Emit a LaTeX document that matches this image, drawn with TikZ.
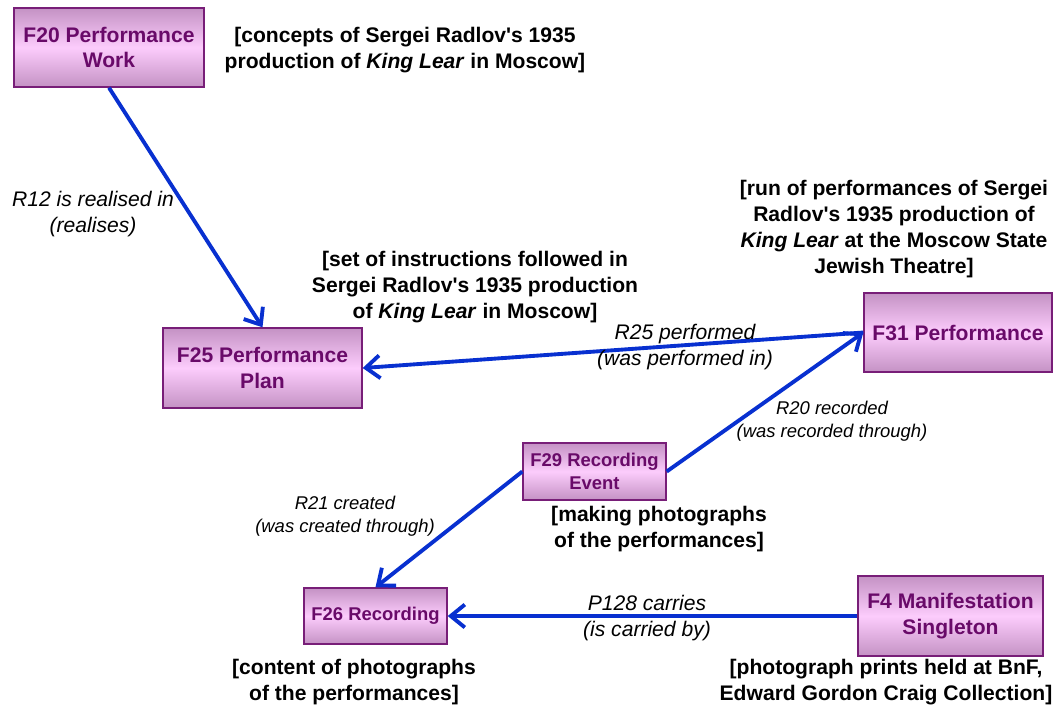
\documentclass[tikz,border=0pt]{standalone}
\usepackage{fontspec}
\setmainfont{Liberation Sans}
\usetikzlibrary{positioning, arrows.meta}

\definecolor{boxedge}{RGB}{120,30,120}
\definecolor{boxtext}{RGB}{105,10,105}
\definecolor{boxdark}{RGB}{196,146,196}
\definecolor{boxlight}{RGB}{252,204,252}
\definecolor{linkblue}{RGB}{8,48,208}

\newcommand{\rdl}{Radlov\textquotesingle s}

\tikzset{
    entity/.style={draw=boxedge, line width=0.8pt, top color=boxdark, bottom color=boxdark,
        middle color=boxlight, text=boxtext, font=\fontsize{12}{14.7}\selectfont\bfseries,
        align=center, inner sep=2pt},
    smallentity/.style={entity, font=\fontsize{10.5}{13}\selectfont\bfseries},
    note/.style={align=center, font=\fontsize{12}{14.7}\selectfont\bfseries},
    rel/.style={align=center, font=\fontsize{12}{14.7}\selectfont\itshape},
    smallrel/.style={align=center, font=\fontsize{10.5}{13}\selectfont\itshape},
    link/.style={draw=linkblue, line width=2.2pt, -{Straight Barb[length=8pt,width=13pt]}}
}

\begin{document}
\begin{tikzpicture}[x=0.02cm, y=-0.02cm]
        \useasboundingbox (0,0) rectangle (1061,708);

        % classes
        \node[entity, minimum width=3.8cm, minimum height=1.58cm] (f20) at (109,47.5) {F20 Performance\\Work};
        \node[entity, minimum width=3.98cm, minimum height=1.6cm] (f25) at (262.5,368) {F25 Performance\\Plan};
        \node[smallentity, minimum width=2.86cm, minimum height=1.14cm] (f29) at (594.5,471.5) {F29 Recording\\Event};
        \node[entity, minimum width=3.76cm, minimum height=1.58cm] (f31) at (958,332.5) {F31 Performance};
        \node[smallentity, minimum width=2.86cm, minimum height=1.12cm] (f26) at (375.5,616) {F26 Recording};
        \node[entity, minimum width=3.7cm, minimum height=1.6cm] (f4) at (950.5,616) {F4 Manifestation\\Singleton};

        % instances
        \node[note] (f20note) at (405,50) {[concepts of Sergei \rdl{} 1935\\production of \textit{King Lear} in Moscow]};
        \node[note] (f31note) at (894,229) {[run of performances of Sergei\\\rdl{} 1935 production of\\\textit{King Lear} at the Moscow State\\Jewish Theatre]};
        \node[note] (f25note) at (475,287) {[set of instructions followed in\\Sergei \rdl{} 1935 production\\of \textit{King Lear} in Moscow]};
        \node[note] (f29note) at (659,529) {[making photographs\\of the performances]};
        \node[note] (f26note) at (354,682) {[content of photographs\\of the performances]};
        \node[note] (f4note) at (886,682) {[photograph prints held at BnF,\\Edward Gordon Craig Collection]};

        % properties
        \draw[link] (f20.south) -- (f25.north);
        \draw[link] (f31.west) -- (f25.east);
        \draw[link] (f29.east) -- (f31.west);
        \draw[link] (f29.west) -- (f26.north);
        \draw[link] (f4.west) -- (f26.east);

        \node[rel] (r12) at (93,214) {R12 is realised in\\(realises)};
        \node[rel] (r25) at (685,347) {R25 performed\\(was performed in)};
        \node[smallrel] (r20) at (832,421) {R20 recorded\\(was recorded through)};
        \node[smallrel] (r21) at (345,516) {R21 created\\(was created through)};
        \node[rel] (p128) at (647,618) {P128 carries\\(is carried by)};
    \end{tikzpicture}
\end{document}
